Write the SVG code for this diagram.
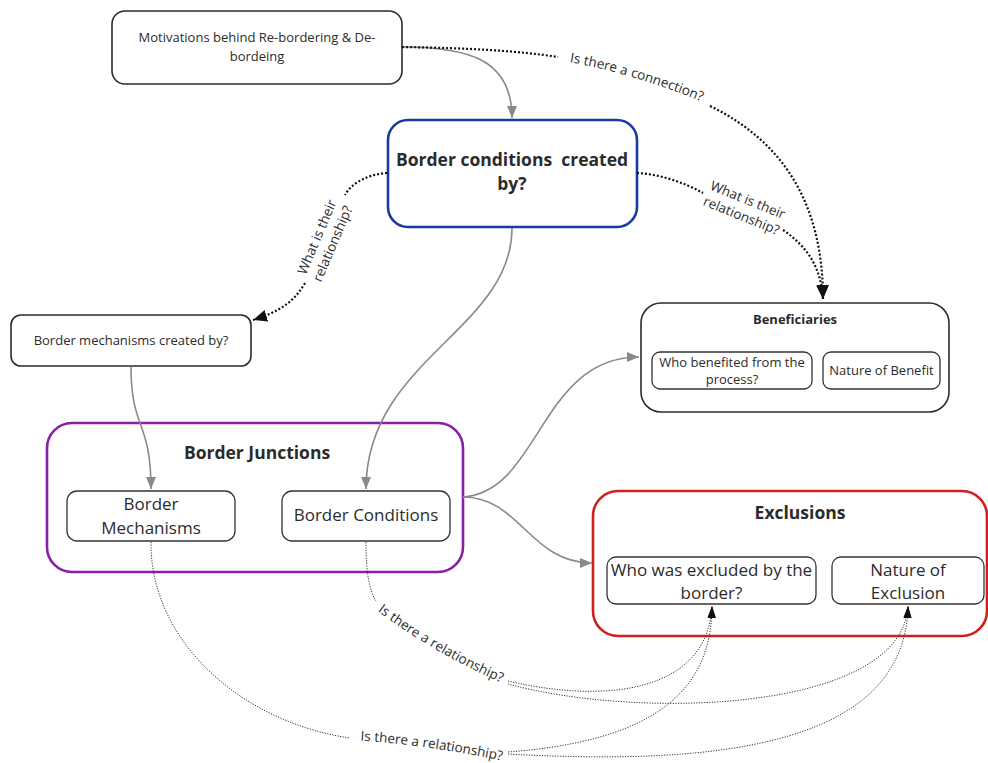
<svg xmlns="http://www.w3.org/2000/svg" width="988" height="763" viewBox="0 0 988 763">
<defs>
<style>
text{font-family:"Open Sans","Liberation Sans",sans-serif;fill:#2b2b2b}
.t13{font-size:13px}
.t17{font-size:17px}
.b17{font-size:17.5px;font-weight:bold}
.b13{font-size:13px;font-weight:bold}
.lbl{font-size:13.5px}
.box{fill:#fff;stroke:#2b2b2b;stroke-width:1.6}
.ibox{fill:#fff;stroke:#333;stroke-width:1.3}
.gray{fill:none;stroke:#8a8a8a;stroke-width:1.6}
.dot{fill:none;stroke:#111;stroke-width:2.2;stroke-dasharray:2 2}
.fine{fill:none;stroke:#333;stroke-width:1;stroke-dasharray:1.2 1.4}
</style>
<marker id="ag" markerUnits="userSpaceOnUse" markerWidth="12" markerHeight="10" viewBox="0 0 12 10" refX="12" refY="5" orient="auto"><path d="M0,0 L12,5 L0,10 z" fill="#8a8a8a"/></marker>
<marker id="ab" markerUnits="userSpaceOnUse" markerWidth="14" markerHeight="12" viewBox="0 0 14 12" refX="14" refY="6" orient="auto"><path d="M0,0 L14,6 L0,12 z" fill="#111"/></marker>
<marker id="as" markerUnits="userSpaceOnUse" markerWidth="12" markerHeight="8" viewBox="0 0 12 8" refX="12" refY="4" orient="auto"><path d="M0,0 L12,4 L0,8 z" fill="#111"/></marker>
<path id="pConn" d="M563,61 Q 630,72 708,104"/>
<path id="pRelA" d="M371,606 Q 430,652 509,686"/>
<path id="pRelB" d="M354,740 Q 430,745 508,762"/>
</defs>

<g id="motivations">
<rect class="box" x="112" y="11" width="290" height="73" rx="13"/>
<text class="t13" text-anchor="middle"><tspan x="257" y="42">Motivations behind Re-bordering &amp; De-</tspan><tspan x="257" y="61">bordeing</tspan></text>
</g>

<g id="border-conditions-created">
<rect x="388" y="120" width="249" height="107" rx="20" fill="#fff" stroke="#1c3a9e" stroke-width="2.6"/>
<text class="b17" text-anchor="middle" xml:space="preserve"><tspan x="512" y="166">Border conditions  created</tspan><tspan x="512" y="190">by?</tspan></text>
</g>

<g id="border-mechanisms-created">
<rect class="box" x="11" y="315" width="240" height="51" rx="10"/>
<text class="t13" x="131" y="345" text-anchor="middle">Border mechanisms created by?</text>
</g>

<g id="beneficiaries">
<rect class="box" x="641" y="303" width="308" height="109" rx="20"/>
<text class="b13" x="795" y="324" text-anchor="middle">Beneficiaries</text>
<g id="who-benefited">
<rect class="ibox" x="652" y="352" width="160" height="37" rx="8"/>
<text class="t13" text-anchor="middle"><tspan x="732" y="367">Who benefited from the</tspan><tspan x="732" y="384">process?</tspan></text>
</g>
<g id="nature-benefit">
<rect class="ibox" x="823" y="352" width="117" height="37" rx="8"/>
<text class="t13" x="881.5" y="375" text-anchor="middle">Nature of Benefit</text>
</g>
</g>

<g id="border-junctions">
<rect x="47" y="423" width="416" height="149" rx="25" fill="#fff" stroke="#8a1fa6" stroke-width="2.6"/>
<text class="b17" x="257" y="459" text-anchor="middle">Border Junctions</text>
<g id="border-mechanisms">
<rect class="ibox" x="67" y="491" width="168" height="50" rx="10"/>
<text class="t17" text-anchor="middle"><tspan x="151" y="510">Border</tspan><tspan x="151" y="534">Mechanisms</tspan></text>
</g>
<g id="border-conditions">
<rect class="ibox" x="282" y="491" width="168" height="50" rx="10"/>
<text class="t17" x="366" y="521" text-anchor="middle">Border Conditions</text>
</g>
</g>

<g id="exclusions">
<rect x="593" y="491" width="394" height="145" rx="25" fill="#fff" stroke="#d0201b" stroke-width="2.6"/>
<text class="b17" x="800" y="519" text-anchor="middle">Exclusions</text>
<g id="who-excluded">
<rect class="ibox" x="607" y="557" width="209" height="47" rx="9"/>
<text class="t17" text-anchor="middle"><tspan x="711.5" y="576">Who was excluded by the</tspan><tspan x="711.5" y="599">border?</tspan></text>
</g>
<g id="nature-exclusion">
<rect class="ibox" x="832" y="557" width="152" height="47" rx="9"/>
<text class="t17" text-anchor="middle"><tspan x="908" y="576">Nature of</tspan><tspan x="908" y="599">Exclusion</tspan></text>
</g>
</g>

<g id="connectors">
<path class="gray" d="M402,47 C 470,47 512,60 512,118" marker-end="url(#ag)"/>
<path class="gray" d="M512,228 C 512,330 366,360 366,489" marker-end="url(#ag)"/>
<path class="gray" d="M131,367 C 131,430 151,420 151,489" marker-end="url(#ag)"/>
<path class="gray" d="M463,497 C 540,492 540,357 639,357" marker-end="url(#ag)"/>
<path class="gray" d="M463,497 C 520,497 530,563 592,563" marker-end="url(#ag)"/>

<path class="dot" d="M402,47 C 470,48 520,51 558,57"/>
<path class="dot" d="M710,106 C 780,140 823,200 823,299" marker-end="url(#ab)"/>
<text class="lbl"><textPath href="#pConn" startOffset="50%" text-anchor="middle">Is there a connection?</textPath></text>

<path class="dot" d="M637,173 C 660,174 685,183 703,193"/>
<path class="dot" d="M783,230 C 805,245 821,265 823,299" marker-end="url(#ab)"/>
<text class="lbl" transform="translate(745,207) rotate(22)" text-anchor="middle"><tspan x="0" y="-3">What is their</tspan><tspan x="0" y="14">relationship?</tspan></text>

<path class="dot" d="M387,173 C 370,174 352,182 345,195"/>
<path class="dot" d="M305,283 C 295,300 282,311 253,320" marker-end="url(#ab)"/>
<text class="lbl" transform="translate(324,240) rotate(-67)" text-anchor="middle"><tspan x="0" y="-3">What is their</tspan><tspan x="0" y="14">relationship?</tspan></text>

<path class="fine" d="M366,542 C 366,572 369,590 376,601"/>
<text class="lbl"><textPath href="#pRelA" startOffset="50%" text-anchor="middle">Is there a relationship?</textPath></text>
<path class="fine" d="M508,681 C 610,705 708,690 712,606" marker-end="url(#as)"/>
<path class="fine" d="M508,684 C 640,720 902,712 908,606" marker-end="url(#as)"/>

<path class="fine" d="M151,542 C 150,640 240,722 350,738"/>
<text class="lbl"><textPath href="#pRelB" startOffset="50%" text-anchor="middle">Is there a relationship?</textPath></text>
<path class="fine" d="M508,752 C 640,742 712,700 712,606" marker-end="url(#as)"/>
<path class="fine" d="M508,754 C 720,766 905,745 908,606" marker-end="url(#as)"/>
</g>
</svg>
